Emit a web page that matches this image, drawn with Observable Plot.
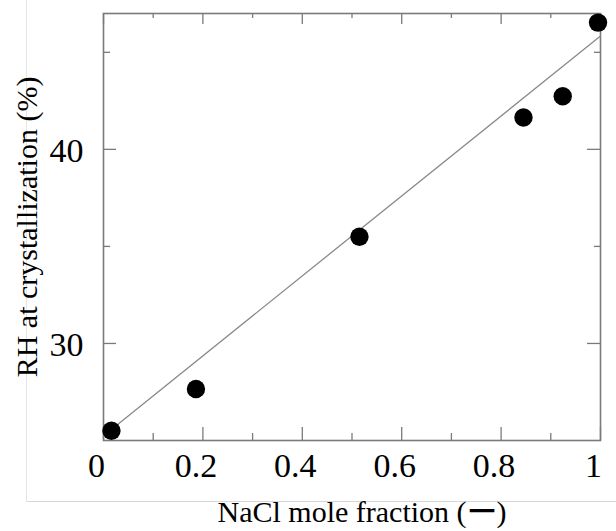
<!DOCTYPE html>
<html>
<head>
<meta charset="utf-8">
<script src="https://cdn.jsdelivr.net/npm/d3@7"></script>
<script src="https://cdn.jsdelivr.net/npm/@observablehq/plot@0.6"></script>
<style>
  html, body { margin: 0; padding: 0; background: #fff; }
  #wrap { position: relative; width: 616px; height: 531px; overflow: hidden; }
  #edge { position: absolute; left: 26px; top: 0; width: 600px; height: 502px;
          border-left: 1px solid #e4e4e4; border-bottom: 1px solid #d8d8d8; box-sizing: border-box; }
  #chart { position: absolute; left: 0; top: 0; }
</style>
</head>
<body>
<div id="wrap"><div id="edge"></div><div id="chart"></div></div>
<script>
// NaCl mole fraction (x) and RH at crystallization (%) (y)
const naclFraction = [0.016, 0.186, 0.515, 0.845, 0.924, 0.995];
const rhCrystal    = [25.5, 27.65, 35.5, 41.64, 42.74, 46.53];
// fitted line end points
const fitX = [0.016, 1.0];
const fitY = [25.57, 45.84];
// ticks
const xMajorTicks = [0, 0.2, 0.4, 0.6, 0.8, 1];
const xMinorTicks = [0.1, 0.3, 0.5, 0.7, 0.9];
const yMajorTicks = [30, 40];
const yMinorTicks = [35, 45];
const xLabel = "NaCl mole fraction (ー)";
const yLabel = "RH at crystallization (%)";

const points = naclFraction.map((x, i) => ({x, y: rhCrystal[i]}));
const fit = fitX.map((x, i) => ({x, y: fitY[i]}));

const W = 616, H = 531;
const mL = 103, mR = 16, mT = 13, mB = 91;
const fw = W - mL - mR, fh = H - mT - mB;
const gray = "#7a7a7a";
const major = 13, minor = 7;

const plot = Plot.plot({
  width: W, height: H,
  marginLeft: mL, marginRight: mR, marginTop: mT, marginBottom: mB,
  style: {fontFamily: "'Liberation Serif', 'Times New Roman', serif", color: "black", background: "transparent"},
  x: {domain: [0, 1]},
  y: {domain: [25, 47]},
  marks: [
    Plot.axisX(xMajorTicks, {tickSize: 0, tickPadding: 12, fontSize: 34, dx: -7, label: null, tickFormat: d => String(d)}),
    Plot.axisY(yMajorTicks, {tickSize: 0, tickPadding: 20, fontSize: 34, dy: 2, label: null}),
    // inward ticks, bottom & top
    Plot.tickX(xMajorTicks, {x: d => d, stroke: gray, strokeWidth: 1.3, insetTop: fh - major}),
    Plot.tickX(xMinorTicks, {x: d => d, stroke: gray, strokeWidth: 1.3, insetTop: fh - minor}),
    Plot.tickX(xMajorTicks, {x: d => d, stroke: gray, strokeWidth: 1.3, insetBottom: fh - 11}),
    Plot.tickX(xMinorTicks, {x: d => d, stroke: gray, strokeWidth: 1.3, insetBottom: fh - 5}),
    // inward ticks, left & right
    Plot.tickY(yMajorTicks, {y: d => d, stroke: gray, strokeWidth: 1.3, insetRight: fw - major}),
    Plot.tickY(yMinorTicks, {y: d => d, stroke: gray, strokeWidth: 1.3, insetRight: fw - minor}),
    Plot.tickY(yMajorTicks, {y: d => d, stroke: gray, strokeWidth: 1.3, insetLeft: fw - major}),
    Plot.tickY(yMinorTicks, {y: d => d, stroke: gray, strokeWidth: 1.3, insetLeft: fw - 6}),
    Plot.frame({stroke: gray, strokeWidth: 1.6}),
    Plot.line(fit, {x: "x", y: "y", stroke: "#8a8a8a", strokeWidth: 1.3}),
    Plot.dot(points, {x: "x", y: "y", r: 9.2, fill: "black", stroke: "none"}),
    Plot.text([xLabel], {frameAnchor: "bottom", text: d => d, fontSize: 30, textAnchor: "middle", lineAnchor: "middle", dx: 10, dy: 72, fill: "black"}),
    Plot.text([yLabel], {frameAnchor: "left", text: d => d, fontSize: 30, rotate: -90, textAnchor: "middle", lineAnchor: "middle", dx: -76, fill: "black"})
  ]
});
document.getElementById("chart").appendChild(plot);
</script>
</body>
</html>
